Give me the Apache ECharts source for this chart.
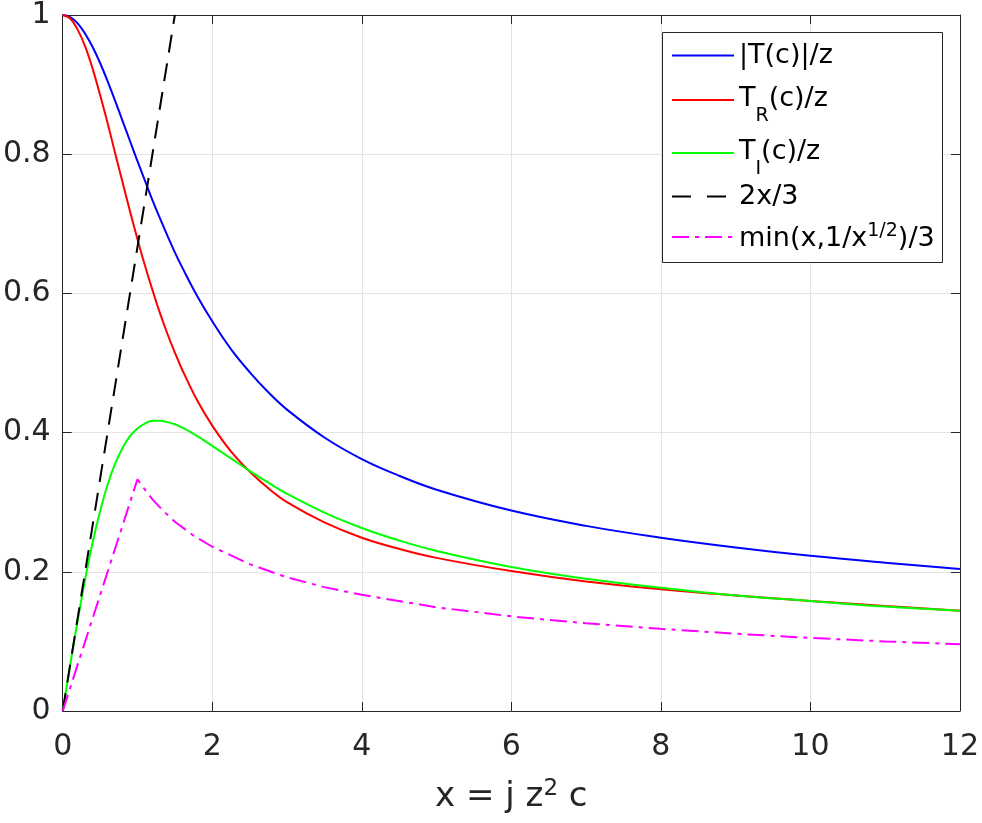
<!DOCTYPE html>
<html>
<head>
<meta charset="utf-8">
<script src="https://cdn.jsdelivr.net/npm/echarts@6/dist/echarts.min.js"></script>
<style>
html,body{margin:0;padding:0;background:#fff;}
#chart{width:982px;height:823px;}
</style>
</head>
<body>
<div id="chart"></div>
<script>
// ---- data ----
const xs    = [0, 0.1, 0.2, 0.3, 0.4, 0.5, 0.6, 0.7, 0.8, 0.9, 1.0, 1.1, 1.2, 1.3, 1.4, 1.5, 1.6, 1.8, 2.0, 2.25, 2.5, 2.75, 3.0, 3.5, 4.0, 4.5, 5.0, 6, 7, 8, 9, 10, 11, 12];
const absT  = [1.000, 0.997, 0.988, 0.973, 0.954, 0.931, 0.905, 0.877, 0.848, 0.819, 0.790, 0.762, 0.734, 0.708, 0.683, 0.659, 0.637, 0.596, 0.560, 0.520, 0.487, 0.458, 0.433, 0.393, 0.362, 0.338, 0.318, 0.288, 0.266, 0.249, 0.235, 0.223, 0.213, 0.204];
const realT = [1.000, 0.995, 0.979, 0.955, 0.923, 0.885, 0.845, 0.802, 0.760, 0.718, 0.678, 0.640, 0.605, 0.572, 0.542, 0.515, 0.490, 0.446, 0.410, 0.373, 0.344, 0.320, 0.300, 0.271, 0.249, 0.233, 0.220, 0.201, 0.186, 0.175, 0.166, 0.158, 0.151, 0.144];
const imagT = [0.000, 0.066, 0.130, 0.189, 0.242, 0.287, 0.325, 0.355, 0.378, 0.395, 0.406, 0.413, 0.417, 0.417, 0.415, 0.412, 0.407, 0.395, 0.381, 0.363, 0.345, 0.328, 0.312, 0.285, 0.263, 0.245, 0.230, 0.207, 0.190, 0.177, 0.166, 0.158, 0.150, 0.144];
const lineXs = [0, 1.5];
const lineYs = [0, 1.0];
const minXs = [0, 1, 1.1, 1.2, 1.35, 1.5, 1.75, 2, 2.5, 3, 3.5, 4, 5, 6, 7, 8, 9, 10, 11, 12];
const minYs = [0, 0.333, 0.318, 0.304, 0.287, 0.272, 0.252, 0.236, 0.211, 0.192, 0.178, 0.167, 0.149, 0.136, 0.126, 0.118, 0.111, 0.105, 0.100, 0.096];
const seriesNames = ['|T(c)|/z', 'T_R(c)/z', 'T_I(c)/z', '2x/3', 'min(x,1/x^(1/2))/3'];
const legendLabels = {
  '|T(c)|/z': '{n||T(c)|/z}',
  'T_R(c)/z': '{m|T}{s|R}{m|(c)/z}',
  'T_I(c)/z': '{m|T}{s|I}{m|(c)/z}',
  '2x/3': '{n|2x/3}',
  'min(x,1/x^(1/2))/3': '{b|min(x,1/x}{p|1/2}{b|)/3}'
};
const xMin = 0, xMax = 12, xStep = 2;
const yMin = 0, yMax = 1, yStep = 0.2;

function zip(a, b) { return a.map((v, i) => [v, b[i]]); }

const FONT = 'DejaVu Sans';
const AX = '#262626';
const chart = echarts.init(document.getElementById('chart'), null, {renderer: 'canvas'});

const axisCommon = {
  type: 'value',
  axisLine: {show: true, onZero: false, lineStyle: {color: AX, width: 1}},
  axisTick: {show: true, inside: true, length: 9, lineStyle: {color: AX, width: 1}},
};

const richLegend = {
  n: {fontFamily: FONT, fontSize: 27, lineHeight: 30, color: '#000'},
  m: {fontFamily: FONT, fontSize: 27, lineHeight: 30, verticalAlign: 'top', color: '#000'},
  s: {fontFamily: FONT, fontSize: 19, lineHeight: 20, padding: [22, 0, 0, 0], verticalAlign: 'top', color: '#000'},
  b: {fontFamily: FONT, fontSize: 27, lineHeight: 30, verticalAlign: 'bottom', color: '#000'},
  p: {fontFamily: FONT, fontSize: 19, lineHeight: 20, padding: [0, 0, 16, 0], verticalAlign: 'top', color: '#000'}
};
const legendTops = [42, 85, 138, 183, 222];
const legendDash = [null, null, null, [19, 16], null];
const legends = seriesNames.map((nm, i) => {
  const lg = {
    orient: 'vertical', left: 671, top: legendTops[i], padding: 0,
    itemWidth: 62, itemHeight: 14, itemGap: 0,
    selectedMode: false, z: 5,
    data: [nm],
    itemStyle: {color: 'rgba(0,0,0,0)', borderWidth: 0},
    formatter: function (name) { return legendLabels[name]; },
    textStyle: {fontFamily: FONT, fontSize: 27, color: '#000', rich: richLegend}
  };
  if (legendDash[i]) lg.lineStyle = {type: legendDash[i]};
  return lg;
});

const option = {
  animation: false,
  backgroundColor: '#fff',
  grid: {left: 58, right: 21, top: 12, bottom: 109, show: false},
  graphic: [{
    type: 'rect', z: 3, left: 662, top: 32,
    shape: {width: 280, height: 230},
    style: {fill: '#fff', stroke: AX, lineWidth: 1}
  }],
  xAxis: [
    Object.assign({}, axisCommon, {
      min: xMin, max: xMax, interval: xStep, position: 'bottom',
      axisLabel: {fontFamily: FONT, fontSize: 30, color: AX, margin: 21},
      splitLine: {show: true, lineStyle: {color: '#e3e3e3', width: 1}},
      name: '{a|x = j z}{p|2}{a| c}',
      nameLocation: 'middle', nameGap: 67,
      nameTextStyle: {fontFamily: FONT, color: AX, rich: {
        a: {fontFamily: FONT, fontSize: 34, lineHeight: 36, verticalAlign: 'bottom', color: AX},
        p: {fontFamily: FONT, fontSize: 23, lineHeight: 23, padding: [0, 0, 17, 0], verticalAlign: 'top', color: AX}
      }}
    }),
    Object.assign({}, axisCommon, {
      min: xMin, max: xMax, interval: xStep, position: 'top',
      axisLabel: {show: false}, splitLine: {show: false}
    })
  ],
  yAxis: [
    Object.assign({}, axisCommon, {
      min: yMin, max: yMax, interval: yStep, position: 'left',
      axisLabel: {fontFamily: FONT, fontSize: 30, color: AX, margin: 12, padding: [6, 0, 0, 0]},
      splitLine: {show: true, lineStyle: {color: '#e3e3e3', width: 1}}
    }),
    Object.assign({}, axisCommon, {
      min: yMin, max: yMax, interval: yStep, position: 'right',
      axisLabel: {show: false}, splitLine: {show: false}
    })
  ],
  legend: legends,
  series: [
    {name: seriesNames[0], type: 'line', data: zip(xs, absT), symbol: 'none', smooth: 0.4,
     lineStyle: {color: '#0000ff', width: 2}, itemStyle: {color: '#0000ff'}},
    {name: seriesNames[1], type: 'line', data: zip(xs, realT), symbol: 'none', smooth: 0.4,
     lineStyle: {color: '#ff0000', width: 2}, itemStyle: {color: '#ff0000'}},
    {name: seriesNames[2], type: 'line', data: zip(xs, imagT), symbol: 'none', smooth: 0.4,
     lineStyle: {color: '#00ff00', width: 2}, itemStyle: {color: '#00ff00'}},
    {name: seriesNames[3], type: 'line', data: zip(lineXs, lineYs), symbol: 'none',
     lineStyle: {color: '#000000', width: 2, type: [18, 11]}, itemStyle: {color: '#000000'}},
    {name: seriesNames[4], type: 'line', data: zip(minXs, minYs), symbol: 'none', smooth: false,
     lineStyle: {color: '#ff00ff', width: 2, type: [17, 6, 4, 6]}, itemStyle: {color: '#ff00ff'}}
  ]
};
chart.setOption(option);
</script>
</body>
</html>
